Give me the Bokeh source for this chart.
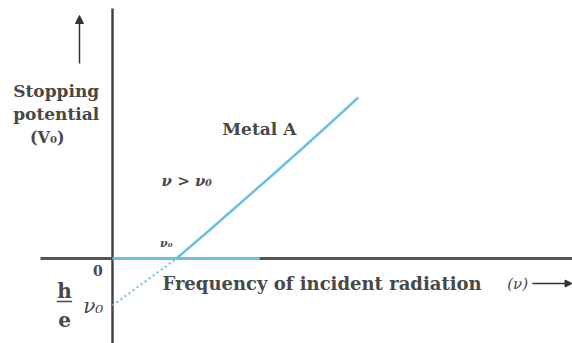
from bokeh.plotting import figure
from bokeh.models import Arrow, NormalHead, Range1d
from bokeh.core.properties import value
from bokeh.embed import file_html
from bokeh.resources import INLINE

# Photoelectric effect: stopping potential versus frequency (threshold frequency = 1 unit)
freq = [1.0, 1.5, 2.0, 2.5, 3.0, 3.5, 3.84]
stopping_potential = [0.0, 0.55, 1.11, 1.67, 2.24, 2.82, 3.22]

# extrapolation of the line back to the potential axis (intercept -h*nu0/e)
extrap_freq = [0.0, 1.0]
extrap_potential = [-0.94, 0.0]

# portion of the frequency axis below threshold (no emission)
below_freq = [0.0, 2.3]
below_potential = [0.0, 0.0]

INK = "#484848"
BLUE = "#6cc0e4"
SERIF = value("DejaVu Serif")

p = figure(width=572, height=343, output_backend="svg", toolbar_location=None,
           x_range=Range1d(-1.75, 7.1875), y_range=Range1d(-1.7, 5.16),
           min_border=0)
p.axis.visible = False
p.grid.visible = False
p.outline_line_color = None
p.background_fill_color = "white"

# coordinate axes
p.segment(x0=[-1.125], y0=[0.0], x1=[7.19], y1=[0.0], line_color="#555555", line_width=3)
p.segment(x0=[0.0], y0=[-1.7], x1=[0.0], y1=[5.0], line_color="#444444", line_width=2.5)

# data lines
p.line(below_freq, below_potential, line_color=BLUE, line_width=3)
p.line(freq, stopping_potential, line_color=BLUE, line_width=2.5)
p.line(extrap_freq, extrap_potential, line_color=BLUE, line_width=2, line_dash="2 3")

# axis direction arrows
p.add_layout(Arrow(end=NormalHead(size=8, fill_color="#333333", line_color="#333333"),
                   x_start=-0.516, y_start=3.9, x_end=-0.516, y_end=4.86,
                   line_color="#333333", line_width=1.5))
p.add_layout(Arrow(end=NormalHead(size=7, fill_color="#333333", line_color="#333333"),
                   x_start=6.56, y_start=-0.5, x_end=7.18, y_end=-0.5,
                   line_color="#333333", line_width=1.5))

def label(x, y, txt, size="16px", align="center", style="bold"):
    p.text(x=[x], y=[y], text=[txt], text_font=SERIF, text_font_size=size,
           text_color=INK, text_align=align, text_baseline="middle",
           text_font_style=style)

label(-0.88, 3.36, "Stopping", "17px")
label(-0.88, 2.90, "potential", "17px")
label(-1.02, 2.42, "(V₀)", "16px")
label(2.34, 2.60, "Metal  A", "17px")
label(1.16, 1.56, "ν > ν₀", "15px", style="bold italic")
label(0.84, 0.30, "ν₀", "11px", style="bold italic")
label(-0.23, -0.24, "0", "14px")
label(-0.75, -0.64, "h", "20px")
p.segment(x0=[-0.87], y0=[-0.86], x1=[-0.63], y1=[-0.86], line_color=INK, line_width=1.5)
label(-0.75, -1.22, "e", "20px")
label(-0.30, -0.94, "ν₀", "20px", style="italic")
label(0.78, -0.50, "Frequency of incident radiation", "18px", align="left")
label(6.33, -0.50, "(ν)", "15px", style="italic")

open("out.html", "w").write(file_html(p, INLINE))
